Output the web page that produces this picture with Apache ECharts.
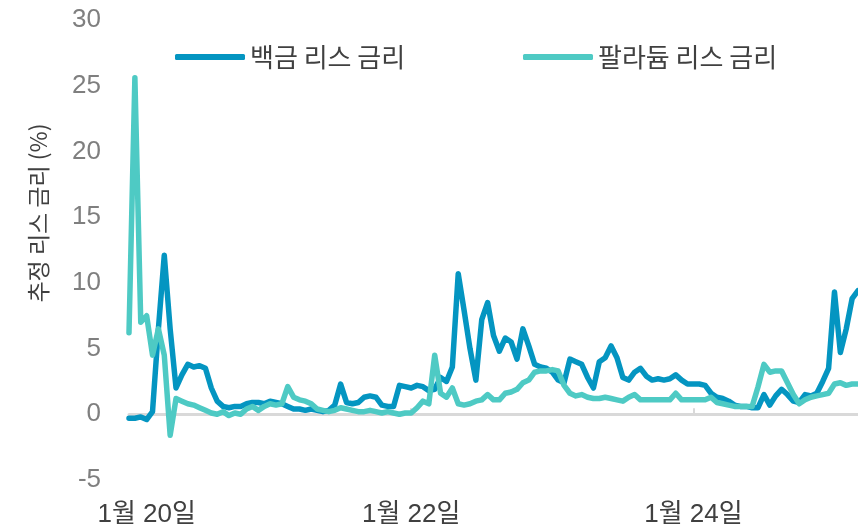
<!DOCTYPE html>
<html>
<head>
<meta charset="utf-8">
<script src="https://cdn.jsdelivr.net/npm/echarts@6/dist/echarts.min.js"></script>
<style>
  html, body { margin: 0; padding: 0; background: #fff; }
  #main { width: 858px; height: 530px; }
</style>
</head>
<body>
<div id="main"></div>
<script>
// 반월 단위 (2020년 1월부터), 125개 구간
const seriesNames = ['백금 리스 금리', '팔라듐 리스 금리'];

const platinumRate = [
  -0.3, -0.3, -0.2, -0.4, 0.2, 6.5, 12.1, 6.5, 2.0, 3.0,
  3.8, 3.6, 3.7, 3.5, 2.0, 1.0, 0.6, 0.5, 0.6, 0.6,
  0.8, 0.9, 0.9, 0.8, 1.0, 0.9, 0.8, 0.6, 0.4, 0.4,
  0.3, 0.4, 0.3, 0.2, 0.3, 0.7, 2.3, 0.9, 0.8, 0.9,
  1.3, 1.4, 1.3, 0.7, 0.6, 0.6, 2.2, 2.1, 2.0, 2.2,
  2.1, 1.8, 1.9, 2.8, 2.5, 3.6, 10.7, 7.9, 5.0, 2.6,
  7.2, 8.5, 6.0, 4.8, 5.8, 5.5, 4.2, 6.5, 5.2, 3.8,
  3.6, 3.5, 3.2, 2.6, 2.4, 4.2, 4.0, 3.8, 2.8, 2.0,
  4.0, 4.3, 5.2, 4.3, 2.8, 2.6, 3.2, 3.5, 2.9, 2.6,
  2.7, 2.6, 2.7, 3.0, 2.6, 2.3, 2.3, 2.3, 2.2, 1.6,
  1.3, 1.2, 1.0, 0.7, 0.6, 0.6, 0.5, 0.5, 1.5, 0.7,
  1.4, 1.9, 1.5, 1.0, 0.9, 1.5, 1.4, 1.6, 2.5, 3.5,
  9.3, 4.7, 6.5, 8.8, 9.4
];

const palladiumRate = [
  6.2, 25.6, 7.0, 7.5, 4.5, 6.5, 4.5, -1.6, 1.2, 1.0,
  0.8, 0.7, 0.5, 0.3, 0.1, 0.0, 0.2, -0.1, 0.1, 0.0,
  0.4, 0.6, 0.3, 0.6, 0.8, 0.7, 0.8, 2.1, 1.3, 1.1,
  1.0, 0.8, 0.4, 0.3, 0.2, 0.3, 0.5, 0.4, 0.3, 0.2,
  0.2, 0.3, 0.2, 0.1, 0.2, 0.1, 0.0, 0.1, 0.1, 0.5,
  1.0, 0.8, 4.5, 1.6, 1.3, 2.0, 0.8, 0.7, 0.8, 1.0,
  1.1, 1.5, 1.1, 1.1, 1.6, 1.7, 1.9, 2.4, 2.6, 3.2,
  3.3, 3.3, 3.4, 3.3, 2.2, 1.6, 1.4, 1.5, 1.3, 1.2,
  1.2, 1.3, 1.2, 1.1, 1.0, 1.3, 1.5, 1.1, 1.1, 1.1,
  1.1, 1.1, 1.1, 1.6, 1.1, 1.1, 1.1, 1.1, 1.1, 1.3,
  0.9, 0.8, 0.7, 0.6, 0.6, 0.6, 0.6, 2.1, 3.8, 3.2,
  3.3, 3.3, 2.4, 1.5, 0.8, 1.1, 1.3, 1.4, 1.5, 1.6,
  2.3, 2.4, 2.2, 2.3, 2.3
];

// x축 라벨 위치와 텍스트
const tickLabels = ['1월 20일', '1월 22일', '1월 24일'];
const tickLabelIdx = [3, 48, 96];
const tickMarkIdx = [48, 96];

const periods = [];
for (let i = 0; i < platinumRate.length; i++) {
  periods.push(i);
}

const labelFont = "'Liberation Sans', 'Noto Sans CJK KR', sans-serif";

const myChart = echarts.init(document.getElementById('main'));
const option = {
  animation: false,
  grid: {
    left: 129,
    right: 0,
    top: 20,
    bottom: 50
  },
  legend: [
    {
      data: [seriesNames[0]],
      left: 170,
      top: 39,
      icon: 'roundRect',
      itemWidth: 70,
      itemHeight: 6,
      textStyle: { fontSize: 26, color: '#404040', fontFamily: 'Noto Sans CJK KR' }
    },
    {
      data: [seriesNames[1]],
      left: 518,
      top: 39,
      icon: 'roundRect',
      itemWidth: 70,
      itemHeight: 6,
      textStyle: { fontSize: 26, color: '#404040', fontFamily: 'Noto Sans CJK KR' }
    }
  ],
  xAxis: [
    {
      // 아래쪽 라벨만
      type: 'category',
      data: periods,
      boundaryGap: false,
      position: 'bottom',
      axisLine: { show: false, onZero: false },
      axisTick: { show: false },
      axisLabel: {
        interval: function (idx) { return tickLabelIdx.indexOf(idx) >= 0; },
        formatter: function (v, idx) { return tickLabels[tickLabelIdx.indexOf(idx)]; },
        margin: 22,
        fontSize: 26,
        color: '#404040',
        fontFamily: labelFont
      },
      splitLine: { show: false }
    },
    {
      // 0 위치의 축선
      type: 'category',
      data: periods,
      boundaryGap: false,
      axisLine: { show: true, onZero: true, lineStyle: { color: '#d9d9d9', width: 3 } },
      axisTick: {
        show: true,
        interval: function (idx) { return tickMarkIdx.indexOf(idx) >= 0; },
        length: 6,
        lineStyle: { color: '#d9d9d9', width: 2 }
      },
      axisLabel: { show: false },
      splitLine: { show: false }
    }
  ],
  yAxis: {
    type: 'value',
    min: -5,
    max: 30,
    interval: 5,
    axisLine: { show: false },
    axisTick: { show: false },
    splitLine: { show: false },
    axisLabel: {
      margin: 28,
      fontSize: 26,
      color: '#7f7f7f',
      fontFamily: labelFont
    }
  },
  graphic: {
    elements: [{
      type: 'text',
      x: 38,
      y: 213,
      rotation: Math.PI / 2,
      style: {
        text: '추정 리스 금리 (%)',
        font: "23px 'Noto Sans CJK KR'",
        fill: '#404040',
        align: 'center',
        verticalAlign: 'middle'
      }
    }]
  },
  series: [
    {
      name: seriesNames[0],
      type: 'line',
      xAxisIndex: 0,
      data: platinumRate,
      showSymbol: false,
      color: '#0495c1',
      lineStyle: { width: 5.5, cap: 'round', join: 'round' }
    },
    {
      name: seriesNames[1],
      type: 'line',
      xAxisIndex: 0,
      data: palladiumRate,
      showSymbol: false,
      color: '#4ecac4',
      lineStyle: { width: 5.5, cap: 'round', join: 'round' }
    }
  ]
};
myChart.setOption(option);
</script>
</body>
</html>
